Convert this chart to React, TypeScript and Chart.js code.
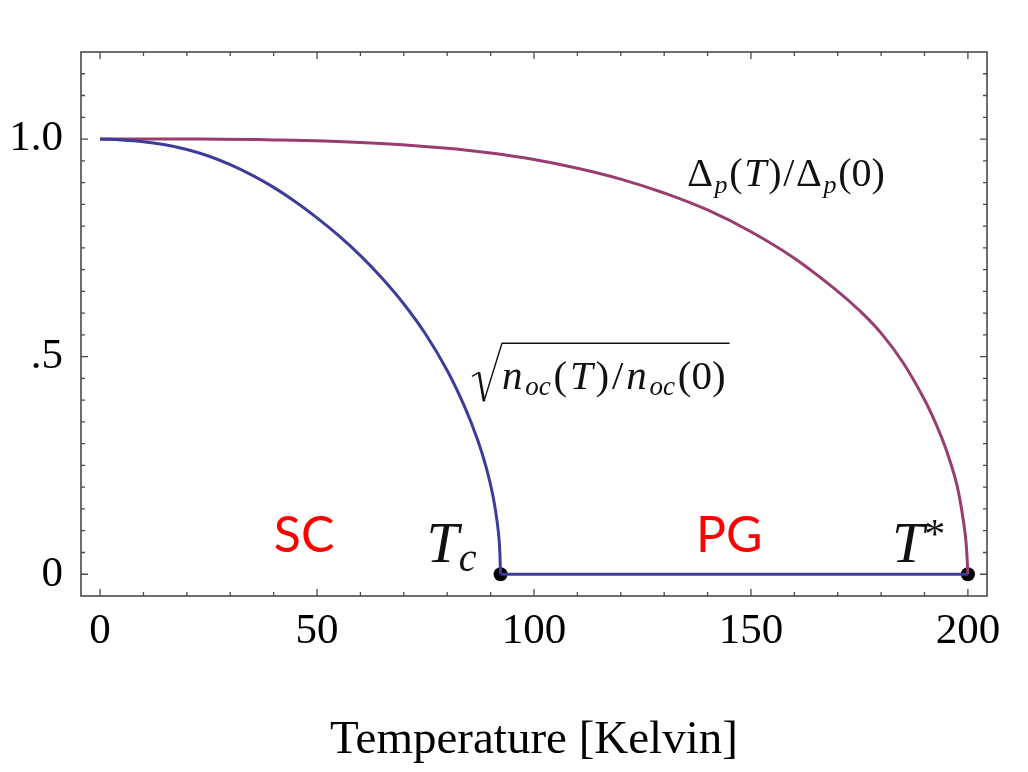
import React, { useEffect, useRef } from 'react';
import { Chart, registerables } from 'chart.js';

Chart.register(...registerables);

// sqrt(n_oc(T)/n_oc(0))
const scTemps = [0, 5, 10, 15, 20, 25, 30, 35, 40, 45, 50, 55, 60, 65, 70, 75, 80, 84, 87, 89, 90.5, 91.5, 92, 92.3];
const scValues = [1.0, 0.998, 0.994, 0.987, 0.976, 0.961, 0.941, 0.917, 0.889, 0.856, 0.819, 0.778, 0.732, 0.68, 0.621, 0.552, 0.468, 0.385, 0.309, 0.245, 0.182, 0.121, 0.074, 0];

// flat part of the blue line between Tc and T*
const flatTemps = [92.3, 200];
const flatValues = [0, 0];

// Delta_p(T)/Delta_p(0), purple curve
const pgTemps = [0, 20, 40, 60, 80, 90, 100, 110, 120, 130, 140, 150, 160, 170, 175, 180, 185, 190, 193, 195, 197, 198, 199, 199.6, 200];
const pgValues = [1.0, 1.0, 0.998, 0.992, 0.979, 0.968, 0.953, 0.933, 0.908, 0.876, 0.837, 0.787, 0.726, 0.65, 0.606, 0.554, 0.487, 0.401, 0.337, 0.286, 0.223, 0.18, 0.12, 0.07, 0];

// Tc and T*
const markTemps = [92.3, 200];
const markValues = [0, 0];

const xTickValues = [0, 50, 100, 150, 200];
const xTickLabels = ['0', '50', '100', '150', '200'];
const yTickValues = [0, 0.5, 1.0];
const yTickLabels = ['0', '.5', '1.0'];
const xTitle = 'Temperature [Kelvin]';

const X_MIN = -4.4;
const X_MAX = 204.4;
const Y_MIN = -0.05;
const Y_MAX = 1.2;
const X_MINOR = 10;
const Y_MINOR = 0.05;

const BLUE = '#3d3d99';
const PURPLE = '#993d70';

const SERIF = '"Liberation Serif", "Times New Roman", serif';
const rm = (s: number) => `${s}px ${SERIF}`;
const it = (s: number) => `italic ${s}px ${SERIF}`;
const RED_FONT = '50px Lato, "Open Sans", sans-serif';

type Run = { t: string; f: string; dy?: number };

const drawRuns = (ctx: CanvasRenderingContext2D, x: number, y: number, runs: Run[], gap = 0) => {
  let cx = x;
  runs.forEach((r) => {
    ctx.font = r.f;
    ctx.fillText(r.t, cx, y + (r.dy || 0));
    cx += ctx.measureText(r.t).width + gap;
  });
  return cx - gap;
};

const deltaRuns: Run[] = [
  { t: 'Δ', f: rm(40) },
  { t: 'p', f: it(26), dy: 7 },
  { t: '(', f: rm(40) },
  { t: 'T', f: it(40) },
  { t: ')', f: rm(40) },
  { t: '/', f: rm(40) },
  { t: 'Δ', f: rm(40) },
  { t: 'p', f: it(26), dy: 7 },
  { t: '(0)', f: rm(40) },
];

const sqrtRuns: Run[] = [
  { t: 'n', f: it(41) },
  { t: 'oc', f: it(27), dy: 6 },
  { t: '(', f: rm(41) },
  { t: 'T', f: it(41) },
  { t: ')', f: rm(41) },
  { t: '/', f: rm(41) },
  { t: 'n', f: it(41) },
  { t: 'oc', f: it(27), dy: 6 },
  { t: '(0)', f: rm(41) },
];

const framePlugin = {
  id: 'frame',
  afterDraw(chart: Chart) {
    const { ctx, chartArea: a } = chart;
    const xs = chart.scales.x;
    const ys = chart.scales.y;
    ctx.save();

    // frame with inward ticks on all four sides
    ctx.strokeStyle = '#4a4a4a';
    ctx.lineWidth = 1.6;
    ctx.strokeRect(a.left, a.top, a.right - a.left, a.bottom - a.top);
    ctx.lineWidth = 1.3;
    ctx.beginPath();
    for (let v = 0; v <= 200 + 1e-9; v += X_MINOR) {
      const px = xs.getPixelForValue(v);
      const len = xTickValues.includes(v) ? 7 : 4;
      ctx.moveTo(px, a.bottom);
      ctx.lineTo(px, a.bottom - len);
      ctx.moveTo(px, a.top);
      ctx.lineTo(px, a.top + len);
    }
    for (let i = 0; Y_MINOR * i <= Y_MAX; i++) {
      const v = Math.round(Y_MINOR * i * 100) / 100;
      const py = ys.getPixelForValue(v);
      const len = yTickValues.includes(v) ? 7 : 4;
      ctx.moveTo(a.left, py);
      ctx.lineTo(a.left + len, py);
      ctx.moveTo(a.right, py);
      ctx.lineTo(a.right - len, py);
    }
    ctx.stroke();

    const px = (v: number) => xs.getPixelForValue(v);
    const py = (v: number) => ys.getPixelForValue(v);

    // region names
    ctx.fillStyle = '#ff0000';
    ctx.font = RED_FONT;
    ctx.textAlign = 'center';
    ctx.textBaseline = 'alphabetic';
    ctx.fillText('SC', px(47), py(0.05));
    ctx.fillText('PG', px(145), py(0.05));

    ctx.fillStyle = '#111';
    ctx.textAlign = 'left';
    drawRuns(ctx, px(75.2), py(0.028), [{ t: 'T', f: it(58) }, { t: 'c', f: it(40), dy: 9 }]);
    drawRuns(ctx, px(182.5), py(0.028), [{ t: 'T', f: it(58) }, { t: '*', f: rm(42), dy: -14 }], 0);

    drawRuns(ctx, px(135.3), py(0.892), deltaRuns, 1.7);

    // radical
    const rx = px(85.7);
    const ry = py(0.425);
    const end = drawRuns(ctx, rx + 30, ry, sqrtRuns, 2.8);
    ctx.strokeStyle = '#111';
    ctx.lineJoin = 'round';
    ctx.lineWidth = 1.4;
    ctx.beginPath();
    ctx.moveTo(rx, ry - 13);
    ctx.lineTo(rx + 7, ry - 17);
    ctx.stroke();
    ctx.lineWidth = 2.6;
    ctx.beginPath();
    ctx.moveTo(rx + 7, ry - 17);
    ctx.lineTo(rx + 12, ry + 12);
    ctx.stroke();
    ctx.lineWidth = 1.4;
    ctx.beginPath();
    ctx.moveTo(rx + 12, ry + 12);
    ctx.lineTo(rx + 30, ry - 46);
    ctx.lineTo(end + 4, ry - 46);
    ctx.stroke();

    ctx.restore();
  },
};

const App: React.FC = () => {
  const chartRef = useRef<HTMLCanvasElement>(null);
  const chartInstanceRef = useRef<Chart | null>(null);

  useEffect(() => {
    if (!chartRef.current) return;
    if (chartInstanceRef.current) chartInstanceRef.current.destroy();
    const ctx = chartRef.current.getContext('2d');
    if (!ctx) return;

    const pts = (xs: number[], ys: number[]) => xs.map((t, i) => ({ x: t, y: ys[i] }));

    chartInstanceRef.current = new Chart(ctx, {
      type: 'line',
      data: {
        datasets: [
          {
            label: 'sqrt(n_oc(T)/n_oc(0))',
            data: pts(scTemps, scValues),
            borderColor: BLUE,
            borderWidth: 3,
            pointRadius: 0,
            tension: 0.4,
            fill: false,
          },
          {
            label: 'flat',
            data: pts(flatTemps, flatValues),
            borderColor: BLUE,
            borderWidth: 3,
            pointRadius: 0,
            fill: false,
          },
          {
            label: 'Delta_p(T)/Delta_p(0)',
            data: pts(pgTemps, pgValues),
            borderColor: PURPLE,
            borderWidth: 3,
            pointRadius: 0,
            tension: 0.4,
            fill: false,
          },
          {
            label: 'marks',
            data: pts(markTemps, markValues),
            showLine: false,
            pointRadius: 7,
            pointBackgroundColor: '#000',
            pointBorderWidth: 0,
          },
        ],
      },
      options: {
        animation: false,
        responsive: true,
        maintainAspectRatio: false,
        layout: { padding: { left: 0, top: 52, right: 41, bottom: 0 } },
        plugins: { legend: { display: false }, tooltip: { enabled: false } },
        scales: {
          x: {
            type: 'linear',
            min: X_MIN,
            max: X_MAX,
            afterBuildTicks: (s: any) => {
              s.ticks = xTickValues.map((v) => ({ value: v }));
            },
            afterFit: (s: any) => {
              s.height = 176;
            },
            grid: { display: false, drawTicks: false },
            border: { display: false },
            ticks: {
              autoSkip: false,
              maxRotation: 0,
              padding: 10,
              color: '#000',
              font: { family: SERIF, size: 43 },
              callback: (_v: any, i: number) => xTickLabels[i],
            },
            title: {
              display: true,
              text: xTitle,
              color: '#000',
              font: { family: SERIF, size: 47 },
              padding: { top: 0, bottom: 3 },
            },
          },
          y: {
            type: 'linear',
            min: Y_MIN,
            max: Y_MAX,
            afterBuildTicks: (s: any) => {
              s.ticks = yTickValues.map((v) => ({ value: v }));
            },
            afterFit: (s: any) => {
              s.width = 81;
            },
            grid: { display: false, drawTicks: false },
            border: { display: false },
            ticks: {
              padding: 18,
              color: '#000',
              font: { family: SERIF, size: 43 },
              callback: (_v: any, i: number) => yTickLabels[i],
            },
          },
        },
      },
      plugins: [framePlugin],
    });

    return () => {
      if (chartInstanceRef.current) {
        chartInstanceRef.current.destroy();
        chartInstanceRef.current = null;
      }
    };
  }, []);

  return (
    <div style={{ position: 'absolute', left: 0, top: 0, width: 1028, height: 772, background: '#fff' }}>
      <canvas ref={chartRef}></canvas>
    </div>
  );
};

export default App;
